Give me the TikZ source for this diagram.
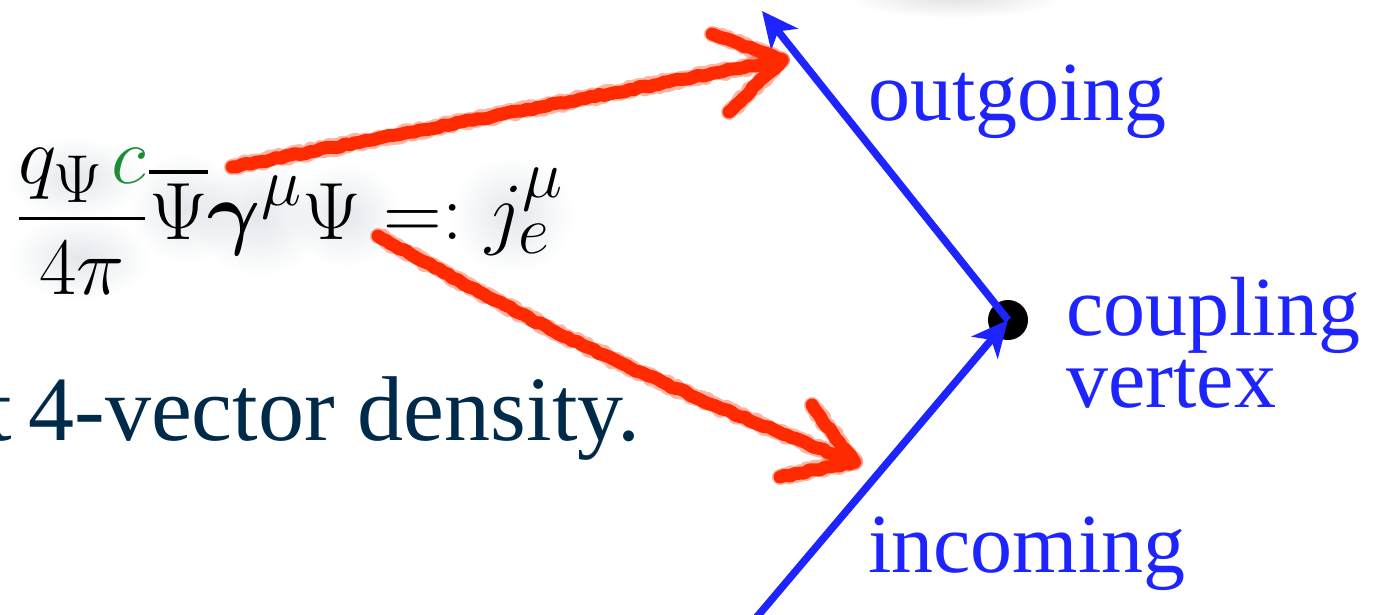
\documentclass[tikz,border=0pt]{standalone}
\usepackage{fontspec}
\usepackage{amsmath,bm}
\setmainfont{Liberation Serif}
\usetikzlibrary{arrows.meta,decorations.pathmorphing,fadings}
\definecolor{bluec}{RGB}{30,36,255}
\definecolor{redc}{RGB}{255,42,0}
\definecolor{greenc}{RGB}{30,140,50}
\definecolor{navyc}{RGB}{0,42,74}
\definecolor{shadowc}{RGB}{90,115,140}
\tikzfading[name=softglow,inner color=transparent!0,outer color=transparent!100]
\begin{document}
\begin{tikzpicture}[x=1pt,y=-1pt,
  lbl/.style={text=bluec,font=\fontsize{84}{90}\selectfont,inner sep=0pt,anchor=base west},
  glow/.style={fill=shadowc,path fading=softglow,opacity=0.17},
  bluearrow/.style={draw=bluec,line width=7.5pt,-{Stealth[length=36pt,width=34pt,inset=10pt]}},
  redstroke/.style={draw=redc,line width=13pt,line cap=round,line join=round,
    decorate,decoration={random steps,segment length=5pt,amplitude=1.2pt}},
  redfuzz/.style={draw=redc,line width=16pt,line cap=round,line join=round,opacity=0.35,
    decorate,decoration={random steps,segment length=3pt,amplitude=2.2pt}}]
\useasboundingbox (0,0) rectangle (1381,614);
\pgfmathsetseed{7}
% faint blur at the top
\fill[black,path fading=softglow,opacity=0.12] (955,-4) ellipse (110 and 22);
% soft glow behind the formula
\fill[glow] (75,178) ellipse (70 and 40);
\fill[glow] (80,258) ellipse (70 and 42);
\fill[glow] (185,208) ellipse (55 and 55);
\fill[glow] (258,218) ellipse (65 and 58);
\fill[glow] (345,215) ellipse (55 and 52);
\fill[glow] (512,215) ellipse (62 and 58);
% formula
\node[font=\Huge,scale=3.27,inner sep=0pt,anchor=base west] (formula) at (14,239)
  {$\displaystyle\frac{q_{\Psi}\mkern1.5mu{\color{greenc}c}}{4\pi}\overline{\Psi}\bm{\gamma}^{\mu}\Psi =: j_e^{\mu}$};
% text line
\node[text=navyc,font=\fontsize{92}{98}\selectfont,inner sep=0pt,anchor=base east] (dens) at (641,440) {t\kern0.18em 4-vector density.};
% labels
\node[lbl] (out) at (868,120) {outgoing};
\node[lbl] (coup) at (1066,335) {coupling};
\node[lbl] (vert) at (1066,407) {vertex};
\node[lbl] (inc) at (868,572) {incoming};
% vertex and lines
\node[circle,fill=black,minimum size=40pt,inner sep=0pt] (v) at (1008,320) {};
\coordinate (otip) at (762,11);
\coordinate (ibot) at (756,618);
\draw[bluearrow] (v.center) -- (otip);
\draw[bluearrow] (ibot) -- (v.center);
% red arrows
\coordinate (r1s) at (232,167);
\coordinate (r1t) at (782,60);
\coordinate (r1a) at (712,34);
\coordinate (r1b) at (729,112);
\coordinate (r2s) at (378,236);
\coordinate (r2t) at (854,462);
\coordinate (r2a) at (812,405);
\coordinate (r2b) at (780,477);
\draw[redfuzz] (r1s) -- (r1t);
\draw[redfuzz] (r1a) -- (r1t) -- (r1b);
\draw[redfuzz] (r2s) to[bend right=4] (r2t);
\draw[redfuzz] (r2a) -- (r2t) -- (r2b);
\draw[redstroke] (r1s) -- (r1t);
\draw[redstroke] (r1a) -- (r1t) -- (r1b);
\draw[redstroke] (r2s) to[bend right=4] (r2t);
\draw[redstroke] (r2a) -- (r2t) -- (r2b);
\end{tikzpicture}
\end{document}
